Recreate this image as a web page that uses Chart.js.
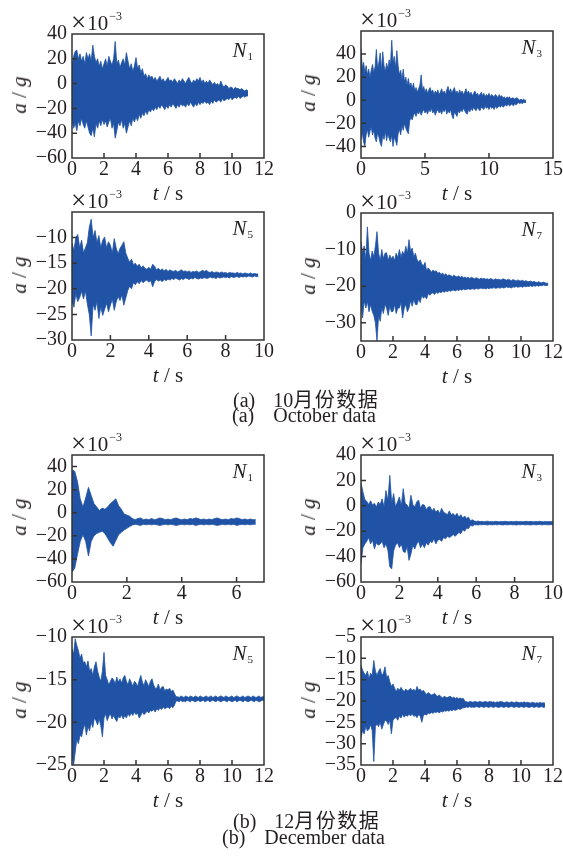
<!DOCTYPE html>
<html><head><meta charset="utf-8">
<script src="https://cdn.jsdelivr.net/npm/chart.js@4.4.1/dist/chart.umd.min.js"></script>
<style>
html,body{margin:0;padding:0;width:563px;height:856px;overflow:hidden;background:#fff}
body{position:relative;font-family:"Liberation Serif","Times New Roman",serif;color:#231f20}
.cv{position:absolute}
.tx{position:absolute;white-space:nowrap;line-height:20px;font-size:20px}
.exp{font-size:21px}
.exp .x{font-size:27px;position:relative;top:1px;margin-right:1px}
.exp sup{font-size:12px;position:relative;top:-10px;vertical-align:baseline;margin-left:1px}
.nlab{font-style:italic;font-size:21px}
.nlab sub{font-style:normal;font-size:11px;vertical-align:baseline;position:relative;top:3px;margin-left:1px}
.ttl{font-size:21px}
.cap{font-size:20px}
.zh{font-family:"Noto Sans CJK SC",sans-serif;font-size:20px;letter-spacing:1.5px}
.gap{display:inline-block}
i{font-style:italic}
</style></head><body>
<script>
// ---------- data (peak envelopes sampled every 0.1 s, units 10^-3 g) ----------
const DT = 0.1;
const OCT_N1_UP = [15,22,26,27,20,24,18,22,16,25, 20,24,18,31,22,17,20,14,18,12, 16,20,14,22,18,15,20,34,16,19,
 13,17,20,15,25,18,12,16,10,14, 21,12,15,9,12,6,8,4,7,5, 6,3,5,2,4,6,2,4,1,3, 5,2,3,1,4,2,0,3,1,4,
 2,0,3,5,2,0,3,1,4,2, 5,1,3,0,2,0,3,1,-1,1, -1,0,-2,2,-1,-3,-1,-2,-4,-3, -3,-5,-3,-4,-4,-5,-4,-5,-6,-5, -6];
const OCT_N1_LO = [-30,-36,-32,-38,-30,-34,-28,-33,-36,-30, -35,-40,-42,-36,-43,-32,-36,-30,-34,-29, -33,-30,-35,-31,-28,-36,-32,-44,-38,-31,
 -34,-29,-36,-32,-40,-35,-30,-34,-28,-31, -27,-30,-25,-28,-24,-26,-22,-25,-21,-23, -20,-22,-19,-21,-18,-20,-17,-19,-21,-18,
 -20,-17,-19,-16,-18,-20,-17,-19,-16,-18, -17,-19,-16,-18,-15,-17,-19,-16,-18,-15, -17,-15,-16,-14,-16,-15,-17,-14,-16,-13,
 -15,-14,-13,-15,-12,-14,-13,-12,-13,-11, -13,-12,-11,-12,-10,-12,-11,-10,-11,-10, -10];
const OCT_N3_UP = [45,28,33,24,30,22,27,20,26,31, 24,29,44,27,33,41,26,42,30,25, 32,27,35,30,52,33,38,28,43,30,
 22,26,18,27,16,20,13,19,12,15, 10,15,8,11,7,10,13,22,9,12, 7,10,6,9,11,7,9,5,8,6, 9,5,7,10,6,8,5,9,12,7,
 10,6,9,11,6,8,5,9,6,8, 5,7,10,6,8,5,7,4,6,8, 5,6,4,5,7,4,6,3,5,4, 6,3,5,4,3,5,4,2,5,3, 4,2,3,1,3,2,3,1,2,2, 1,2,2,1,0,1,0,1,0,0];
const OCT_N3_LO = [-34,-28,-36,-40,-30,-25,-32,-27,-23,-30, -26,-33,-36,-28,-32,-37,-40,-30,-34,-27, -35,-29,-33,-36,-30,-40,-32,-35,-39,-29,
 -25,-30,-22,-26,-20,-24,-27,-29,-18,-15, -17,-13,-11,-14,-10,-12,-9,-13,-10,-8, -11,-9,-12,-8,-10,-7,-11,-9,-13,-10,
 -8,-11,-9,-12,-8,-10,-7,-12,-9,-11, -8,-13,-16,-10,-12,-14,-9,-11,-8,-10, -7,-9,-11,-12,-8,-10,-7,-9,-6,-8,
 -9,-6,-8,-9,-6,-7,-8,-5,-7,-6, -8,-5,-7,-6,-8,-5,-7,-6,-5,-6, -4,-6,-5,-4,-5,-3,-5,-4,-3,-5, -3,-4,-3,-2,-3,-2,-3,-2,-2,-2];
const OCT_N5_UP = [-11,-12.5,-10,-9.4,-12,-10.5,-13,-12,-11,-8, -6.4,-10,-8.6,-11,-9.6,-12,-10.5,-9.9,-12,-10.8,
 -11.5,-13,-10.2,-12,-13.2,-12.1,-11.5,-10.8,-13,-14, -14.8,-14.2,-15.3,-15,-15.6,-15.2,-15.9,-15.5,-16,-16.2,
 -15.8,-16.2,-15.2,-15.6,-16.3,-16,-16.4,-16.1,-16.5,-16.2, -16.6,-16.3,-16.5,-16.6,-16.4,-16.7,-16.5,-16.3,-16.6,-16.5,
 -16.7,-16.5,-16.8,-16.6,-16.7,-16.5,-16.8,-16.6,-16.4,-16.6, -16.4,-16.7,-16.8,-16.6,-16.9,-16.7,-16.8,-16.9,-16.7,-16.9,
 -16.8,-17,-16.8,-16.9,-16.9,-17,-16.8,-17,-16.9,-17.1, -16.9,-17,-17.1,-16.9,-17.1,-17,-17.1,-17.1];
const OCT_N5_LO = [-22.3,-23.6,-21,-22.5,-21.7,-20.5,-22,-20.4,-23,-25, -29.2,-23,-24.2,-22.5,-25.8,-23.5,-25.2,-24,-22.8,-24.5,
 -23.2,-22,-24.2,-22.6,-21.5,-22.3,-21.2,-23.2,-21.8,-20.4, -19.5,-20,-18.8,-19.2,-18.6,-19,-18.4,-18.8,-18.5,-18.3,
 -18.7,-18.4,-19.6,-18.6,-18.2,-18.5,-18.3,-18.6,-18.2,-18.4, -18.1,-18.3,-18,-18.2,-17.9,-18.1,-18.3,-18,-18.2,-17.9,
 -18,-18.2,-17.9,-18.1,-17.8,-18,-18.1,-17.9,-18,-17.8, -18,-17.9,-17.7,-17.9,-17.8,-18,-17.7,-17.9,-17.8,-17.7,
 -17.8,-17.7,-17.9,-17.6,-17.8,-17.7,-17.6,-17.8,-17.6,-17.7, -17.6,-17.7,-17.5,-17.6,-17.7,-17.5,-17.6,-17.6];
const OCT_N7_UP = [-7.8,-11,-9,-12.7,-3.8,-11,-13,-10.4,-12,-9, -5.1,-11,-13,-10,-12.5,-11,-10.9,-13,-11.5,-12.5,
 -11.8,-13,-11,-12.2,-10,-12,-10.5,-11.5,-9.1,-11, -7.3,-10.5,-9.6,-12,-11,-12.7,-13.5,-12.8,-14,-14.4,
 -13.5,-15.8,-15,-15.5,-16.2,-15.6,-16,-15.8,-16.5,-16.2, -16.8,-16.4,-17,-16.6,-17.2,-16.9,-17.1,-17.4,-17,-17.3,
 -17.5,-17.2,-17.6,-17.3,-17.7,-17.5,-17.8,-17.6,-17.9,-17.6, -17.8,-18,-17.7,-17.9,-18.1,-17.8,-18,-17.9,-18.1,-18,
 -18.2,-17.9,-18.1,-18.3,-18,-18.2,-18.1,-18.3,-18.2,-18, -18.2,-18.4,-18.1,-18.3,-18.5,-18.2,-18.4,-18.6,-18.3,-18.5,
 -18.6,-18.4,-18.7,-18.5,-18.7,-18.8,-18.6,-18.9,-18.7,-18.9, -19,-18.8,-19,-19.1,-18.9,-19.1,-19.2,-19.2];
const OCT_N7_LO = [-25.1,-28.7,-24,-26,-24.2,-27,-25,-26.9,-28,-30, -35,-28,-29.6,-26,-27.5,-25,-26,-28,-25.5,-27,
 -26.9,-25,-27.5,-26,-26,-24.5,-28.7,-26,-25,-27, -26,-24,-25.5,-23.5,-25,-25.1,-23.5,-24.5,-22.5,-23.3,
 -22.8,-23.5,-22,-22.5,-22,-21.8,-22.3,-21.6,-22,-21.6, -21.8,-21.4,-21.7,-21.3,-21.5,-21.2,-21.4,-21.1,-21.1,-21.3,
 -21,-21.2,-20.9,-21.1,-20.8,-21,-20.9,-20.7,-20.9,-20.8, -20.7,-20.9,-20.6,-20.8,-20.7,-20.5,-20.7,-20.6,-20.8,-20.5,
 -20.7,-20.5,-20.6,-20.4,-20.6,-20.5,-20.4,-20.6,-20.3,-20.5, -20.4,-20.2,-20.4,-20.3,-20.5,-20.2,-20.3,-20.1,-20.3,-20.2,
 -20.1,-20.3,-20,-20.2,-20,-20.1,-19.9,-20.1,-19.9,-20, -19.8,-20,-19.8,-19.9,-19.7,-19.8,-19.8,-19.8];
const DEC_N1_UP = [37,36,27,12,5,13,22,15,8,5, 2,4,3,5,8,10,12,6,3,-1, -2,-3,-5,-6,-5,-4.5,-6,-5.5,-6,-5,
 -6,-5.5,-4.5,-5,-6,-5.5,-6,-5,-4.5,-5.5, -6,-5.5,-6,-5,-5.5,-4.5,-5,-6,-5.5,-6, -5.5,-6,-5,-4.5,-5.5,-6,-5.5,-6,-5,-5.5,
 -4.5,-5,-6,-5.5,-6,-5.5,-6,-6];
const DEC_N1_LO = [-51.5,-48,-36,-25,-19,-25,-37.5,-25,-20,-18, -17,-16,-18,-22,-26,-29,-24,-19,-17,-15,
 -13.5,-12,-10.7,-10,-10.5,-11,-10,-10.5,-10,-10.5, -10,-10.5,-11,-10.5,-10,-10.5,-10,-10.5,-11,-10.5,
 -10,-10.5,-10,-10.5,-10,-11,-10.5,-10,-10.5,-10, -10.5,-10,-10.5,-11,-10.5,-10,-10.5,-10,-10.5,-10, -11,-10.5,-10,-10.5,-10,-10.5,-10,-10];
const DEC_N3_UP = [18,11,5,3.5,1,4,0.6,2,-1,3, 1,5.5,-1,12,4,24,2,9.6,-1,3, 7,0,13.5,2,0.6,-2,8.3,1,-1,3,
 4.6,-2,1,0.6,-3,-1,-0.7,-4,-2,-5, -3.3,-6,-2,-5,-5.9,-7,-4,-7.2,-6,-8, -5.9,-9,-7,-9.7,-8,-10,-9,-11.8,-11,-12,
 -12.3,-12,-12.5,-12.2,-12.6,-12.3,-12.1,-12.5,-12.3,-12.6, -12.2,-12.4,-12.6,-12.3,-12.5,-12.2,-12.4,-12.6,-12.3,-12.5,
 -12.4,-12.2,-12.5,-12.3,-12.6,-12.4,-12.2,-12.5,-12.3,-12.4, -12.6,-12.3,-12.5,-12.2,-12.4,-12.6,-12.3,-12.5,-12.4,-12.5, -12.4];
const DEC_N3_LO = [-45.8,-33,-30,-28,-25,-30,-27,-34,-29,-31, -30,-28,-33,-30,-35,-48,-49.7,-35.5,-31,-29,
 -33,-30,-36,-36.8,-32,-43,-38,-31,-34,-30, -28,-33,-30,-33,-29,-31,-27.8,-29,-26,-30,
 -27,-26.5,-28,-25,-26,-24,-25,-24,-22.6,-24, -22.6,-21,-22,-18.8,-20,-17.5,-18,-15.4,-16,-15,
 -14.9,-15.1,-14.8,-15,-14.7,-14.9,-15.1,-14.8,-15,-14.9, -14.8,-15,-14.7,-14.9,-15.1,-14.8,-15,-14.9,-14.7,-15,
 -14.9,-15.1,-14.8,-15,-14.7,-14.9,-15,-14.8,-15.1,-14.9, -14.8,-15,-14.9,-14.7,-15,-14.9,-14.8,-15,-14.9,-14.8, -14.9];
const DEC_N5_UP = [-11.4,-12,-10.2,-11,-11.6,-12.5,-12,-13,-12.9,-13.5, -12.8,-14,-13.7,-14.5,-13.5,-12.9,-14,-14.7,-15.2,-14,
 -11.8,-14.5,-15,-15.6,-15.2,-14.8,-15,-15.5,-14.7,-15.3, -14.9,-15.4,-14.8,-14.5,-15.2,-15.6,-14.9,-15.3,-15.8,-15.2,
 -15.4,-15.8,-15.1,-14.5,-15.3,-15.7,-15,-15.4,-15.8,-15.2, -14.9,-15.6,-16,-16,-15.5,-16.2,-15.9,-15.8,-16.3,-16.1,
 -16.2,-16,-16.4,-16.2,-16.6,-17,-17,-17.1,-16.9,-17, -17.1,-16.9,-17,-17.1,-16.9,-17,-17.1,-16.9,-17,-17.1,
 -16.9,-17,-17.1,-17,-16.9,-17.1,-17,-16.9,-17.1,-17, -16.9,-17.1,-17,-16.9,-17,-17.1,-16.9,-17,-17.1,-17,
 -16.9,-17.1,-17,-16.9,-17,-17.1,-17,-16.9,-17.1,-17, -16.9,-17,-17.1,-16.9,-17,-17.1,-17,-16.9,-17.1,-17, -17];
const DEC_N5_LO = [-24,-25,-23.5,-22,-22.5,-21.5,-21.7,-20.8,-20.2,-21.5, -20.5,-21,-20,-20.6,-19.5,-19.8,-20.3,-19.6,-20.4,-21.7,
 -19.5,-19,-19.8,-19.3,-19,-19.6,-19.2,-19.6,-19.9,-19.3, -19.5,-19.1,-19.6,-19.2,-19.5,-19,-19.3,-18.9,-19.2,-18.8,
 -19.1,-18.9,-19.5,-19.2,-18.8,-19.1,-18.9,-18.7,-18.9,-18.6, -18.7,-18.5,-18.8,-18.4,-18.6,-18.3,-18.5,-18.2,-18.4,-18.3,
 -18.2,-18.4,-18.1,-18.3,-18,-17.5,-17.5,-17.6,-17.4,-17.6, -17.5,-17.6,-17.4,-17.5,-17.6,-17.4,-17.5,-17.6,-17.5,-17.4,
 -17.6,-17.5,-17.4,-17.6,-17.5,-17.4,-17.6,-17.5,-17.4,-17.5, -17.6,-17.4,-17.5,-17.6,-17.5,-17.4,-17.5,-17.6,-17.4,-17.5,
 -17.6,-17.5,-17.4,-17.6,-17.5,-17.4,-17.5,-17.6,-17.4,-17.5, -17.6,-17.5,-17.4,-17.5,-17.6,-17.4,-17.5,-17.6,-17.5,-17.4, -17.5];
const DEC_N7_UP = [-11.7,-12.8,-13.5,-14,-13,-14.7,-13.5,-14,-10.5,-13, -14,-13,-12.4,-14,-13.5,-12,-14.5,-14,-15.5,-16.6,
 -16,-17,-17.8,-17,-17.5,-16.8,-17.4,-17.8,-17.2,-17.6, -17.4,-17,-17.6,-17.2,-17.8,-16.6,-17.5,-17.2,-17.8,-17.5,
 -18,-18.5,-18,-18.3,-18.6,-18.5,-18.2,-18.7,-18.9,-18.6, -19,-19.3,-18.9,-19.1,-19.2,-19,-18.9,-19.3,-19.1,-19.4,
 -19.2,-19.5,-19.3,-19.5,-19.4,-20.1,-20.2,-20.3,-20.1,-20.2, -20.3,-20.1,-20.2,-20.3,-20.1,-20.2,-20.3,-20.2,-20.1,-20.3,
 -20.2,-20.1,-20.3,-20.2,-20.4,-20.2,-20.3,-20.1,-20.2,-20.3, -20.4,-20.2,-20.3,-20.4,-20.2,-20.3,-20.4,-20.2,-20.3,-20.4,
 -20.3,-20.4,-20.2,-20.4,-20.3,-20.4,-20.5,-20.3,-20.4,-20.5, -20.4,-20.5,-20.3,-20.5,-20.4,-20.5];
const DEC_N7_LO = [-28.5,-27,-27.7,-26,-27,-26.6,-25.5,-27,-34.2,-26, -25.4,-26,-25,-26.6,-25.5,-24.5,-24.7,-25.5,-24.5,-27.7,
 -24.5,-24,-23.9,-24.5,-23.5,-24,-23.1,-23.8,-23.3,-23.6, -23.1,-23.5,-23,-23.6,-23.4,-23.9,-23.2,-23.5,-25,-23.4,
 -23.1,-23.3,-22.8,-23,-22.7,-22.9,-22.6,-22.7,-22.5,-22.8, -22.4,-22.6,-22.3,-22.4,-22.2,-22.4,-22.1,-22.3,-22,-22.2,
 -22,-21.8,-22,-21.7,-21.6,-21.5,-21.4,-21.5,-21.3,-21.5, -21.4,-21.5,-21.3,-21.4,-21.5,-21.3,-21.4,-21.5,-21.3,-21.4,
 -21.5,-21.3,-21.4,-21.5,-21.3,-21.4,-21.5,-21.4,-21.3,-21.5, -21.4,-21.3,-21.5,-21.4,-21.3,-21.4,-21.5,-21.3,-21.4,-21.5,
 -21.3,-21.4,-21.5,-21.3,-21.4,-21.5,-21.4,-21.3,-21.5,-21.4, -21.3,-21.5,-21.4,-21.3,-21.5,-21.4];

// ---------- tick labels ----------
const XT_12 = [0,2,4,6,8,10,12];
const XT_15 = [0,5,10,15];
const XT_10 = [0,2,4,6,8,10];
const XT_7  = [0,2,4,6];
const YT_OCT1 = [-60,-40,-20,0,20,40];
const YT_OCT3 = [-40,-20,0,20,40];
const YT_OCT5 = [-30,-25,-20,-15,-10];
const YT_OCT7 = [-30,-20,-10,0];
const YT_DEC1 = [-60,-40,-20,0,20,40];
const YT_DEC3 = [-60,-40,-20,0,20,40];
const YT_DEC5 = [-25,-20,-15,-10];
const YT_DEC7 = [-35,-30,-25,-20,-15,-10,-5];
const SENSORS = ['1','3','5','7','1','3','5','7'];
const CAPTIONS = [['(a)','10','月份数据','(a)','October data'],['(b)','12','月份数据','(b)','December data']];

// ---------- layout ----------
const PANELS = [
  {up:OCT_N1_UP, lo:OCT_N1_LO, x:[0,12], y:[-60,40], xt:XT_12, yt:YT_OCT1, box:[72,31,264,158]},
  {up:OCT_N3_UP, lo:OCT_N3_LO, x:[0,15], y:[-50,60], xt:XT_15, yt:YT_OCT3, box:[361,28,553,158]},
  {up:OCT_N5_UP, lo:OCT_N5_LO, x:[0,10], y:[-30,-5], xt:XT_10, yt:YT_OCT5, box:[72,209,264,340]},
  {up:OCT_N7_UP, lo:OCT_N7_LO, x:[0,12], y:[-35,0], xt:XT_12, yt:YT_OCT7, box:[361,210,553,341]},
  {up:DEC_N1_UP, lo:DEC_N1_LO, x:[0,7], y:[-60,50], xt:XT_7, yt:YT_DEC1, box:[72,452,264,582]},
  {up:DEC_N3_UP, lo:DEC_N3_LO, x:[0,10], y:[-60,40], xt:XT_10, yt:YT_DEC3, box:[361,452,553,582]},
  {up:DEC_N5_UP, lo:DEC_N5_LO, x:[0,12], y:[-25,-10], xt:XT_12, yt:YT_DEC5, box:[72,634,264,765]},
  {up:DEC_N7_UP, lo:DEC_N7_LO, x:[0,12], y:[-35,-5], xt:XT_12, yt:YT_DEC7, box:[361,634,553,765]}
];
const CAP_LAYOUT = [
  {l1:[233,389], l2:[232,405]},
  {l1:[233,810], l2:[222,827]}
];
const PAD_L = 50, PAD_T = 14, PAD_R = 12, PAD_B = 30;
const LINE = '#2053a5', FRAME = '#333333', TXT = '#231f20';
const FONT = {family:'"Liberation Serif","Times New Roman",serif', size:20};
const fmt = v => (v < 0 ? '\u2212' + Math.abs(v) : String(v));
const env = arr => arr.map((v, i) => ({x: i * DT, y: v}));

const framePlugin = {
  id: 'frame',
  afterDatasetsDraw(chart) {
    const {ctx, chartArea: a, scales: {x, y}} = chart;
    ctx.save();
    ctx.strokeStyle = FRAME;
    ctx.lineWidth = 1.5;
    ctx.strokeRect(a.left, a.top, a.right - a.left, a.bottom - a.top);
    ctx.beginPath();
    x.ticks.forEach(t => { const p = x.getPixelForValue(t.value); if (p > a.left + 1 && p < a.right - 1) { ctx.moveTo(p, a.bottom); ctx.lineTo(p, a.bottom - 5); } });
    y.ticks.forEach(t => { const p = y.getPixelForValue(t.value); if (p > a.top + 1 && p < a.bottom - 1) { ctx.moveTo(a.left, p); ctx.lineTo(a.left + 5, p); } });
    ctx.stroke();
    ctx.restore();
  }
};

function addText(html, cls, style) {
  const d = document.createElement('div');
  d.className = 'tx ' + (cls || '');
  d.innerHTML = html;
  Object.assign(d.style, style);
  document.body.appendChild(d);
  return d;
}

PANELS.forEach((p, k) => {
  const [L, T, R, B] = p.box;
  const cv = document.createElement('canvas');
  cv.className = 'cv';
  const w = (R - L) + PAD_L + PAD_R, h = (B - T) + PAD_T + PAD_B;
  cv.width = w; cv.height = h;
  cv.style.left = (L - PAD_L) + 'px';
  cv.style.top = (T - PAD_T) + 'px';
  cv.style.width = w + 'px'; cv.style.height = h + 'px';
  document.body.appendChild(cv);
  new Chart(cv, {
    type: 'line',
    data: {datasets: [
      {data: env(p.up), borderColor: LINE, backgroundColor: LINE, borderWidth: 0.8, pointRadius: 0, tension: 0, fill: '+1'},
      {data: env(p.lo), borderColor: LINE, backgroundColor: LINE, borderWidth: 0.8, pointRadius: 0, tension: 0, fill: false}
    ]},
    options: {
      responsive: false, animation: false, parsing: false, normalized: true,
      layout: {padding: {top: PAD_T, right: PAD_R, left: 0, bottom: 0}},
      plugins: {legend: {display: false}, tooltip: {enabled: false}},
      events: [],
      scales: {
        x: {type: 'linear', min: p.x[0], max: p.x[1],
            afterBuildTicks: s => { s.ticks = p.xt.map(v => ({value: v})); },
            afterFit: s => { s.height = PAD_B; },
            grid: {display: false, drawTicks: false}, border: {display: false},
            ticks: {font: FONT, color: TXT, padding: 0, maxRotation: 0, autoSkip: false, callback: v => fmt(v)}},
        y: {type: 'linear', min: p.y[0], max: p.y[1],
            afterBuildTicks: s => { s.ticks = p.yt.map(v => ({value: v})); },
            afterFit: s => { s.width = PAD_L; },
            grid: {display: false, drawTicks: false}, border: {display: false},
            ticks: {font: FONT, color: TXT, padding: 5, autoSkip: false, callback: v => fmt(v)}}
      }
    },
    plugins: [framePlugin]
  });
  addText('<span class="x">\u00d7</span>10<sup>\u22123</sup>', 'exp', {left: (L - 1) + 'px', top: (T - 20) + 'px'});
  addText('N<sub>' + SENSORS[k] + '</sub>', 'nlab', {right: (563 - (R - 11)) + 'px', top: (T + 9) + 'px'});
  addText('<i>a</i> / <i>g</i>', 'ttl', {left: (L - 53) + 'px', top: ((T + B) / 2) + 'px', transform: 'translate(-50%,-50%) rotate(-90deg)'});
  addText('<i>t</i> / s', 'ttl', {left: ((L + R) / 2) + 'px', top: (B + 25) + 'px', transform: 'translateX(-50%)'});
});

// captions
CAPTIONS.forEach((c, i) => {
  const g = CAP_LAYOUT[i];
  addText(c[0] + '<span class="gap" style="width:18px"></span>' + c[1] + '<span class="zh">' + c[2] + '</span>', 'cap', {left: g.l1[0] + 'px', top: g.l1[1] + 'px'});
  addText(c[3] + '<span class="gap" style="width:19px"></span>' + c[4], 'cap', {left: g.l2[0] + 'px', top: g.l2[1] + 'px'});
});
</script>
</body></html>
